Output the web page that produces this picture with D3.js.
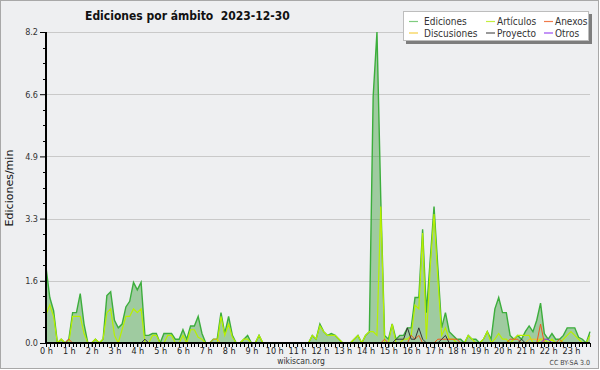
<!DOCTYPE html>
<html>
<head>
<meta charset="utf-8">
<script src="https://cdn.jsdelivr.net/npm/d3@7"></script>
<style>
  body { margin: 0; background: #fff; }
  svg { display: block; font-family: "DejaVu Sans Condensed", "DejaVu Sans", sans-serif; }
</style>
</head>
<body>
<svg id="chart" width="600" height="370"></svg>
<script>
// Tick labels
const hourLabels = ["0 h", "1 h", "2 h", "3 h", "4 h", "5 h", "6 h", "7 h", "8 h", "9 h", "10 h", "11 h",
  "12 h", "13 h", "14 h", "15 h", "16 h", "17 h", "18 h", "19 h", "20 h", "21 h", "22 h", "23 h"];
const yTickValues = [0, 1.64, 3.28, 4.92, 6.56, 8.2];
const yTickLabels = ["0.0", "1.6", "3.3", "4.9", "6.6", "8.2"];

// Edits per minute, one value per 10 minutes (one row = one hour)
const ediciones = [
  2.0, 1.2, 0.85, 0, 0.1, 0,
  0.1, 0.8, 0.8, 1.3, 0.5, 0,
  0, 0.1, 0, 0.1, 1.25, 1.35,
  0.6, 0.4, 0.5, 0.95, 1.1, 1.6,
  1.4, 1.6, 0.2, 0.2, 0.25, 0.25,
  0, 0.25, 0.25, 0.25, 0.1, 0.1,
  0.35, 0.1, 0.45, 0.45, 0.7, 0.25,
  0, 0, 0.1, 0.1, 0.8, 0.25,
  0.7, 0.2, 0, 0, 0.1, 0.2,
  0, 0, 0.2, 0, 0, 0,
  0, 0, 0, 0, 0, 0,
  0, 0, 0, 0, 0.2, 0.1,
  0.5, 0.3, 0.2, 0.25, 0.2, 0.1,
  0, 0, 0, 0.1, 0.2, 0,
  0.2, 0.3, 6.5, 8.2, 3.8, 0.2,
  0.1, 0.5, 0.1, 0.2, 0.2, 0.4,
  0.4, 1.2, 1.2, 3.0, 0.8, 2.2,
  3.6, 2.0, 0.4, 0.8, 0.3, 0.2,
  0.1, 0.1, 0, 0.2, 0.1, 0.1,
  0, 0.1, 0.3, 0.1, 0.9, 1.2,
  0.8, 0.8, 0.2, 0.1, 0.2, 0.1,
  0.3, 0.45, 0.3, 0.6, 1.05, 0.25,
  0.1, 0.25, 0.1, 0.1, 0.2, 0.4,
  0.4, 0.4, 0.15, 0.1, 0, 0.3
];
const articulos = [
  0.75, 1.0, 0.7, 0, 0.1, 0,
  0, 0.7, 0.7, 0.7, 0.25, 0,
  0, 0.1, 0, 0.1, 0.8, 0.9,
  0.2, 0, 0.35, 0.7, 0.7, 0.9,
  0.8, 0.9, 0, 0, 0.2, 0.2,
  0, 0, 0.2, 0.2, 0, 0,
  0.2, 0, 0.35, 0.35, 0.15, 0.1,
  0, 0, 0, 0, 0.7, 0.2,
  0.5, 0.15, 0, 0, 0.1, 0.1,
  0, 0, 0.2, 0, 0, 0,
  0, 0, 0, 0, 0, 0,
  0, 0, 0, 0, 0.2, 0.1,
  0.45, 0.3, 0.2, 0.2, 0.2, 0.1,
  0, 0, 0, 0.1, 0.2, 0,
  0.2, 0.3, 0.3, 0.2, 3.6, 0,
  0, 0.5, 0, 0, 0.1, 0.1,
  0.2, 1.0, 0.9, 2.9, 0.1, 2.0,
  3.4, 1.7, 0.2, 0.4, 0.1, 0.1,
  0, 0, 0, 0.2, 0.1, 0,
  0, 0.1, 0.3, 0, 0.1, 0.25,
  0.1, 0.1, 0, 0.1, 0.2, 0.2,
  0.2, 0.2, 0, 0, 0.1, 0.1,
  0, 0.1, 0, 0, 0.1, 0.2,
  0.3, 0.2, 0.1, 0, 0, 0.2
];
const anexos = [
  0, 0, 0, 0, 0, 0,
  0.1, 0, 0, 0, 0, 0,
  0, 0, 0, 0, 0, 0,
  0, 0, 0, 0, 0, 0,
  0, 0, 0, 0, 0, 0,
  0, 0, 0, 0, 0, 0,
  0, 0, 0, 0, 0, 0,
  0, 0, 0, 0, 0, 0,
  0, 0, 0, 0, 0, 0,
  0, 0, 0, 0, 0, 0,
  0, 0, 0, 0, 0, 0,
  0, 0, 0, 0, 0, 0,
  0, 0, 0, 0, 0, 0,
  0, 0, 0, 0, 0, 0,
  0, 0, 0, 0, 0, 0.1,
  0, 0, 0, 0, 0, 0,
  0.2, 0.1, 0.2, 0, 0, 0,
  0, 0.1, 0.1, 0.1, 0.1, 0.1,
  0.1, 0, 0, 0, 0, 0,
  0, 0, 0, 0, 0, 0,
  0, 0, 0.1, 0.1, 0.1, 0,
  0, 0, 0, 0, 0.5, 0,
  0, 0, 0, 0.1, 0, 0,
  0, 0, 0, 0, 0, 0
];
const discusiones = [
  0, 0, 0, 0, 0, 0,
  0, 0, 0, 0, 0, 0,
  0, 0, 0, 0, 0, 0,
  0, 0, 0, 0, 0, 0,
  0, 0, 0, 0, 0, 0,
  0, 0, 0, 0, 0, 0,
  0, 0, 0, 0, 0, 0,
  0, 0, 0.1, 0.1, 0, 0,
  0, 0, 0, 0, 0, 0,
  0, 0, 0, 0, 0, 0,
  0, 0, 0, 0, 0, 0,
  0, 0, 0, 0, 0, 0,
  0, 0, 0, 0, 0, 0,
  0, 0, 0, 0, 0, 0,
  0, 0, 0, 0, 0, 0,
  0, 0, 0, 0, 0, 0,
  0, 0, 0, 0, 0, 0,
  0, 0, 0, 0, 0, 0,
  0, 0, 0, 0, 0, 0,
  0, 0, 0, 0, 0, 0,
  0, 0, 0, 0, 0, 0,
  0, 0.1, 0.1, 0.1, 0.1, 0,
  0, 0, 0, 0, 0, 0,
  0, 0, 0, 0, 0, 0
];
const proyecto = [
  0, 0, 0, 0, 0, 0,
  0, 0, 0, 0, 0, 0,
  0, 0, 0, 0, 0, 0,
  0, 0, 0, 0, 0, 0,
  0, 0, 0.1, 0, 0, 0,
  0, 0, 0, 0, 0, 0,
  0, 0, 0, 0, 0, 0,
  0, 0, 0, 0, 0, 0,
  0, 0, 0, 0, 0, 0,
  0, 0, 0, 0, 0, 0,
  0, 0, 0, 0, 0, 0,
  0, 0, 0, 0, 0, 0,
  0, 0, 0, 0, 0, 0,
  0, 0, 0, 0, 0, 0,
  0, 0, 0, 0, 0, 0,
  0, 0, 0.1, 0.1, 0.1, 0.4,
  0.1, 0.1, 0.4, 0.1, 0, 0,
  0, 0, 0.1, 0.2, 0, 0,
  0, 0, 0, 0, 0, 0,
  0, 0, 0, 0, 0, 0,
  0, 0, 0, 0, 0, 0.1,
  0, 0, 0, 0, 0, 0,
  0, 0, 0, 0, 0, 0,
  0, 0, 0, 0, 0, 0
];
const otros = [
  0, 0, 0, 0, 0, 0,
  0, 0, 0, 0, 0, 0,
  0, 0, 0, 0, 0, 0,
  0, 0, 0, 0, 0, 0,
  0, 0, 0, 0, 0, 0,
  0, 0, 0, 0, 0, 0,
  0, 0, 0, 0, 0, 0,
  0, 0, 0, 0, 0, 0,
  0, 0, 0, 0, 0, 0,
  0, 0, 0, 0, 0, 0,
  0, 0, 0, 0, 0, 0,
  0, 0, 0, 0, 0, 0,
  0, 0, 0, 0, 0, 0,
  0, 0, 0, 0, 0, 0,
  0, 0, 0, 0, 0, 0,
  0, 0, 0, 0, 0, 0,
  0, 0, 0, 0, 0, 0,
  0, 0, 0, 0, 0, 0,
  0, 0, 0, 0, 0, 0,
  0, 0, 0, 0, 0, 0,
  0, 0, 0, 0, 0, 0,
  0, 0, 0, 0, 0, 0.1,
  0.1, 0, 0, 0, 0, 0,
  0, 0, 0, 0, 0, 0
];

// Plot box
const plotLeft = 46, plotRight = 590, plotTop = 32, plotBottom = 343;

const svg = d3.select("#chart");

const x = d3.scaleLinear().domain([0, ediciones.length - 1]).range([plotLeft, plotRight]);
const y = d3.scaleLinear().domain([0, 8.2]).range([plotBottom, plotTop]);

// Background + frame
svg.append("rect")
  .attr("x", 0.5).attr("y", 0.5)
  .attr("width", 598).attr("height", 368)
  .attr("fill", "#eeeff1")
  .attr("stroke", "#a8a8a8");

// Grid lines
svg.append("g")
  .selectAll("line")
  .data(yTickValues.slice(1))
  .join("line")
  .attr("x1", plotLeft).attr("x2", plotRight)
  .attr("y1", d => Math.round(y(d)) + 0.5).attr("y2", d => Math.round(y(d)) + 0.5)
  .attr("stroke", "#c9c9c9");

// Ediciones: filled area + line
svg.append("path")
  .datum(ediciones)
  .attr("d", d3.area().x((d, i) => x(i)).y0(y(0)).y1(d => y(d)))
  .attr("fill", "#3f9f3f")
  .attr("fill-opacity", 0.45);

const line = d3.line().x((d, i) => x(i)).y(d => y(d));

svg.append("path")
  .datum(ediciones)
  .attr("d", line)
  .attr("fill", "none")
  .attr("stroke", "#3cae3c")
  .attr("stroke-width", 1.4);

// Other series drawn as lines on top
const others = [
  { values: articulos, color: "#b8f000", w: 1.2 },
  { values: discusiones, color: "#f2c21d", w: 1 },
  { values: anexos, color: "#f05a1e", w: 1 },
  { values: proyecto, color: "#333333", w: 1 },
  { values: otros, color: "#8a2be2", w: 1 }
];
others.forEach(s => {
  svg.append("path")
    .datum(s.values)
    .attr("d", line)
    .attr("fill", "none")
    .attr("stroke", s.color)
    .attr("stroke-width", s.w);
});

// Y axis
const yAxis = svg.append("g")
  .attr("transform", `translate(${plotLeft},0)`)
  .call(d3.axisLeft(y).tickValues(yTickValues).tickFormat((d, i) => yTickLabels[i]).tickSize(6).tickPadding(2));
yAxis.select(".domain").remove();
yAxis.selectAll("text").attr("font-size", 9).attr("fill", "#333").attr("font-family", "DejaVu Sans Condensed");
yAxis.selectAll(".tick line").attr("stroke", "#000");

// minor y ticks (quarters)
const yMinor = d3.range(0, 20).map(k => k * 8.2 / 20).filter((d, k) => k % 4 !== 0);
svg.append("g")
  .selectAll("line")
  .data(yMinor)
  .join("line")
  .attr("x1", plotLeft - 3).attr("x2", plotLeft)
  .attr("y1", d => Math.round(y(d)) + 0.5).attr("y2", d => Math.round(y(d)) + 0.5)
  .attr("stroke", "#000");

svg.append("line")
  .attr("x1", plotLeft).attr("x2", plotLeft)
  .attr("y1", plotTop).attr("y2", plotBottom + 1)
  .attr("stroke", "#000").attr("stroke-width", 2);

// X axis: ticks every 10 minutes, labels every hour
const xAxis = svg.append("g")
  .attr("transform", `translate(0,${plotBottom})`)
  .call(d3.axisBottom(x).tickValues(d3.range(0, 144, 6)).tickFormat((d, i) => hourLabels[i]).tickSize(4).tickPadding(1));
xAxis.select(".domain").remove();
xAxis.selectAll("text").attr("font-size", 9).attr("fill", "#222").attr("font-family", "DejaVu Sans Condensed");

svg.append("g")
  .selectAll("line")
  .data(d3.range(0, 144))
  .join("line")
  .attr("x1", d => Math.round(x(d)) + 0.5).attr("x2", d => Math.round(x(d)) + 0.5)
  .attr("y1", plotBottom).attr("y2", plotBottom + 4)
  .attr("stroke", "#000");

svg.append("line")
  .attr("x1", plotLeft).attr("x2", plotRight)
  .attr("y1", plotBottom).attr("y2", plotBottom)
  .attr("stroke", "#000").attr("stroke-width", 2);

// Titles
svg.append("text")
  .attr("x", 85).attr("y", 20)
  .attr("font-size", 12).attr("font-weight", "bold")
  .attr("fill", "#111")
  .text("Ediciones por ámbito  2023-12-30")
  .style("white-space", "pre");

svg.append("text")
  .attr("transform", "translate(13,188) rotate(-90)")
  .attr("text-anchor", "middle")
  .attr("font-size", 11)
  .attr("font-family", "DejaVu Sans")
  .attr("fill", "#111")
  .text("Ediciones/min");

svg.append("text")
  .attr("x", 301).attr("y", 364)
  .attr("text-anchor", "middle")
  .attr("font-size", 8.5)
  .attr("fill", "#333")
  .text("wikiscan.org");

svg.append("text")
  .attr("x", 590).attr("y", 365)
  .attr("text-anchor", "end")
  .attr("font-size", 7)
  .attr("fill", "#444")
  .text("CC BY-SA 3.0");

// Legend
const legendItems = [
  { name: "Ediciones", color: "#7fcc7f", col: 0, row: 0 },
  { name: "Artículos", color: "#c4ee40", col: 1, row: 0 },
  { name: "Anexos", color: "#f07a4a", col: 2, row: 0 },
  { name: "Discusiones", color: "#f5cf45", col: 0, row: 1 },
  { name: "Proyecto", color: "#555555", col: 1, row: 1 },
  { name: "Otros", color: "#9a4cf0", col: 2, row: 1 }
];
const colX = [409, 486, 544];

svg.append("rect")
  .attr("x", 406).attr("y", 14).attr("width", 186).attr("height", 30)
  .attr("fill", "#7d7d7d");
svg.append("rect")
  .attr("x", 403.5).attr("y", 11.5).attr("width", 185).attr("height", 29)
  .attr("fill", "#fff").attr("stroke", "#bdbdbd");

const legend = svg.append("g")
  .selectAll("g")
  .data(legendItems)
  .join("g")
  .attr("transform", d => `translate(${colX[d.col]},${21.5 + d.row * 11.5})`);
legend.append("line")
  .attr("x1", 0).attr("x2", 9)
  .attr("stroke", d => d.color).attr("stroke-width", 1.2);
legend.append("text")
  .attr("x", d => d.col === 0 ? 15 : 11)
  .attr("dy", "0.35em")
  .attr("font-size", 10)
  .attr("fill", "#333")
  .text(d => d.name);
</script>
</body>
</html>
